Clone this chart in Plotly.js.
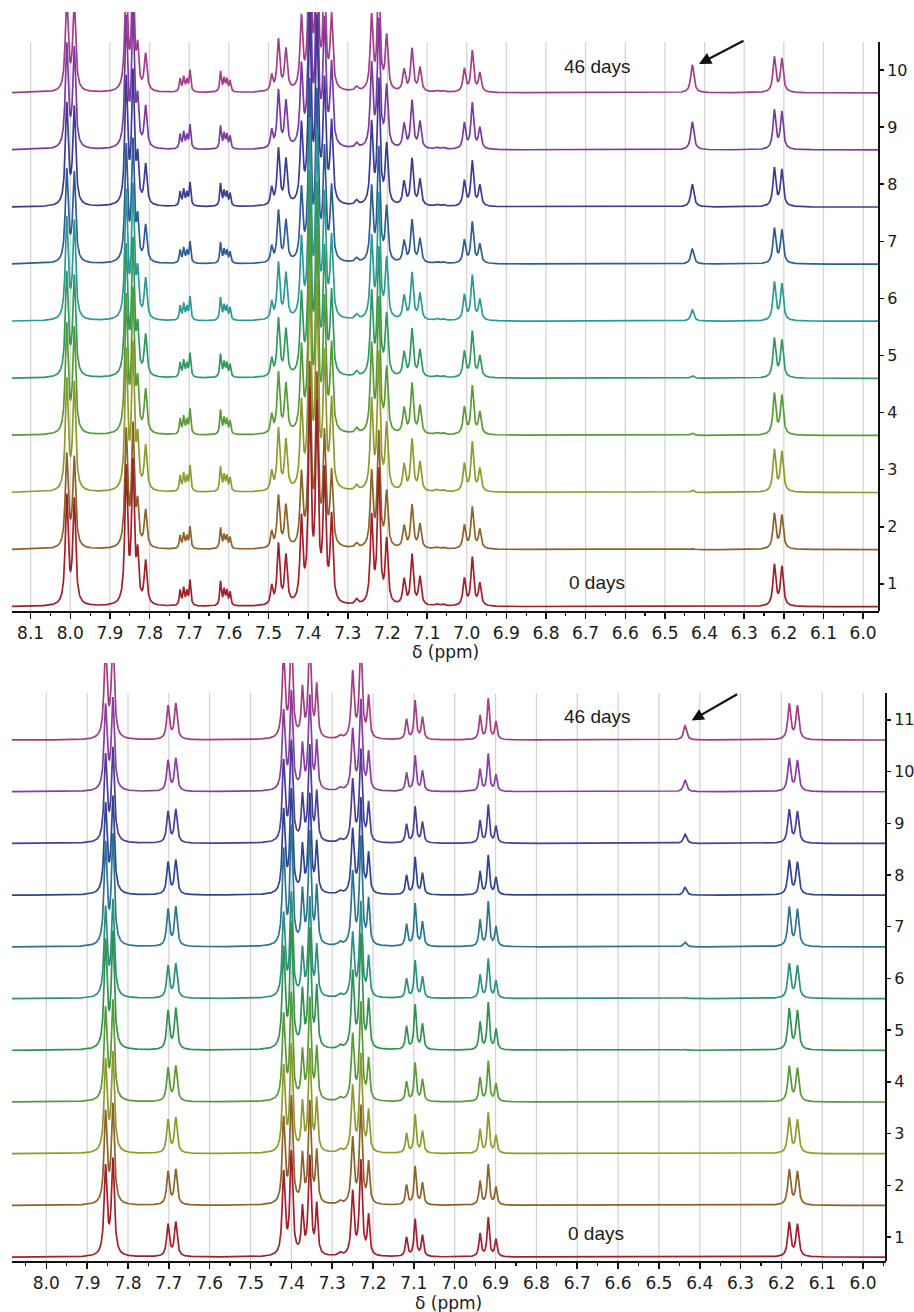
<!DOCTYPE html>
<html>
<head>
<meta charset="utf-8">
<script src="https://cdn.plot.ly/plotly-3.0.1.min.js"></script>
<style>
html,body{margin:0;padding:0;background:#ffffff;}
#chart{width:914px;height:1312px;}
</style>
</head>
<body>
<div id="chart"></div>
<script>
// ---------------- DATA: top panel (compound A) ----------------
// peak positions (ppm), intensities of spectrum 1 (a.u.), line widths (FWHM, ppm)
const topPeakPpm = [8.009, 7.990, 7.859, 7.842, 7.830, 7.810, 7.723, 7.714, 7.706, 7.698,
  7.621, 7.612, 7.605, 7.597, 7.492, 7.475, 7.456, 7.417, 7.396, 7.378, 7.359, 7.341,
  7.278, 7.240, 7.222, 7.202, 7.158, 7.138, 7.118, 7.076, 7.059, 7.006, 6.986, 6.967, 6.224, 6.205];
const topPeakIntensity = [108, 104, 134, 138, 44, 43, 15, 17, 13, 25,
  24, 15, 14, 13, 18, 60, 48, 82, 205, 190, 126, 85,
  5, 86, 132, 63, 25, 50, 28, 2, 2, 27, 48, 22, 41, 39];
const topPeakWidth = [0.0085, 0.0085, 0.008, 0.008, 0.0065, 0.008, 0.0048, 0.0048, 0.0048, 0.0048,
  0.0048, 0.0048, 0.0048, 0.0048, 0.0065, 0.008, 0.008, 0.008, 0.008, 0.008, 0.008, 0.008,
  0.009, 0.008, 0.008, 0.008, 0.008, 0.008, 0.008, 0.01, 0.01, 0.008, 0.008, 0.008, 0.0085, 0.0085];
const topTraceScale = [1.0, 0.86, 1.02, 1.0, 0.95, 0.93, 0.85, 0.93, 0.95, 0.85];
const topNewPeakPpm = 6.431;
const topNewPeakWidth = 0.0095;
const topNewPeakIntensity = [0, 0.8, 2.3, 2.3, 2.7, 11.3, 15, 22.7, 28, 28];
const topTraceLabels = [1, 2, 3, 4, 5, 6, 7, 8, 9, 10];
const topTickVals = [8.1, 8.0, 7.9, 7.8, 7.7, 7.6, 7.5, 7.4, 7.3, 7.2, 7.1, 7.0, 6.9, 6.8, 6.7, 6.6, 6.5, 6.4, 6.3, 6.2, 6.1, 6.0];
const topTickText = ['8.1', '8.0', '7.9', '7.8', '7.7', '7.6', '7.5', '7.4', '7.3', '7.2', '7.1', '7.0', '6.9', '6.8', '6.7', '6.6', '6.5', '6.4', '6.3', '6.2', '6.1', '6.0'];
const topColors = ['#a21f2a', '#8c6228', '#8f9a2c', '#579a36', '#2f9a5e', '#2a9a96', '#2c5e94', '#3a3c94', '#7b3aa2', '#a23c8c'];

// ---------------- DATA: bottom panel (compound B) ----------------
const botPeakPpm = [7.855, 7.837, 7.702, 7.683, 7.419, 7.400, 7.373, 7.355, 7.338,
  7.281, 7.250, 7.230, 7.211, 7.118, 7.097, 7.079, 6.938, 6.918, 6.899, 6.181, 6.161];
const botPeakIntensity = [88, 95, 32, 34, 82, 102, 45, 98, 49,
  3, 63, 94, 39, 19, 37, 21, 23, 39, 17, 34, 32];
const botPeakWidth = [0.0085, 0.0085, 0.008, 0.008, 0.008, 0.008, 0.0065, 0.008, 0.0065,
  0.01, 0.008, 0.008, 0.0065, 0.0065, 0.0065, 0.0065, 0.0065, 0.0065, 0.0065, 0.0085, 0.0085];
const botTraceScale = [1.0, 1.03, 1.03, 1.03, 1.2, 1.0, 1.14, 1.0, 0.97, 0.95, 1.04];
const botNewPeakPpm = 6.436;
const botNewPeakWidth = 0.009;
const botNewPeakIntensity = [0, 0, 0, 0, 0.8, 1.0, 4.7, 7.7, 9.3, 11.7, 14.3];
const botTraceLabels = [1, 2, 3, 4, 5, 6, 7, 8, 9, 10, 11];
const botTickVals = [8.0, 7.9, 7.8, 7.7, 7.6, 7.5, 7.4, 7.3, 7.2, 7.1, 7.0, 6.9, 6.8, 6.7, 6.6, 6.5, 6.4, 6.3, 6.2, 6.1, 6.0];
const botTickText = ['8.0', '7.9', '7.8', '7.7', '7.6', '7.5', '7.4', '7.3', '7.2', '7.1', '7.0', '6.9', '6.8', '6.7', '6.6', '6.5', '6.4', '6.3', '6.2', '6.1', '6.0'];
const botColors = ['#a21f2a', '#8c6228', '#8f9a2c', '#579a36', '#2f9250', '#2a9080', '#2a7494', '#2e4492', '#4a3c98', '#8a3ca4', '#a43c84'];

// ---------------- display settings ----------------
const topRangeX = [8.147, 5.960], botRangeX = [8.084, 5.944];
const topRangeY = [0.525, 11.016], botRangeY = [0.536, 12.10];
const topGridTop = 10.49, botGridTop = 11.52;
const topBaseOffset = 0.40, botBaseOffset = 0.39;     // baseline below tick value
const topIntensityPerUnit = 57.1, botIntensityPerUnit = 51.7;
const step = 0.0006;

function buildGrid(range, peaks, extra) {
  const xs = [];
  for (let v = range[0]; v >= range[1]; v -= step) xs.push(v);
  peaks.forEach(p => xs.push(p));
  xs.push(extra);
  xs.sort((a, b) => b - a);
  return xs;
}

function spectrum(xs, ppm, inten, width, scale, nPpm, nInt, nW) {
  return xs.map(x => {
    let s = 0;
    for (let i = 0; i < ppm.length; i++) {
      const d = 2 * (x - ppm[i]) / width[i];
      s += scale * inten[i] / (1 + d * d);
    }
    const dn = 2 * (x - nPpm) / nW;
    s += nInt / (1 + dn * dn);
    return s;
  });
}

const traces = [];
function addPanel(xa, ya, range, ppm, inten, width, scales, nPpm, nW, nInts, labels, colors, baseOff, perUnit) {
  const xs = buildGrid(range, ppm, nPpm);
  for (let k = labels.length - 1; k >= 0; k--) {
    const sp = spectrum(xs, ppm, inten, width, scales[k], nPpm, nInts[k], nW);
    const base = labels[k] - baseOff;
    traces.push({
      type: 'scatter', mode: 'lines', x: xs, y: sp.map(v => base + v / perUnit),
      xaxis: xa, yaxis: ya, line: {color: colors[k], width: 1.7}, hoverinfo: 'skip'
    });
  }
}
addPanel('x', 'y', topRangeX, topPeakPpm, topPeakIntensity, topPeakWidth, topTraceScale,
  topNewPeakPpm, topNewPeakWidth, topNewPeakIntensity, topTraceLabels, topColors, topBaseOffset, topIntensityPerUnit);
addPanel('x2', 'y2', botRangeX, botPeakPpm, botPeakIntensity, botPeakWidth, botTraceScale,
  botNewPeakPpm, botNewPeakWidth, botNewPeakIntensity, botTraceLabels, botColors, botBaseOffset, botIntensityPerUnit);

function mids(vals, range) {
  const m = [];
  for (let i = 0; i < vals.length - 1; i++) m.push((vals[i] + vals[i + 1]) / 2);
  const first = vals[0] + 0.05, last = vals[vals.length - 1] - 0.05;
  if (first <= range[0]) m.push(first);
  if (last >= range[1]) m.push(last);
  return m;
}

const shapes = [];
function gridShapes(xref, yref, vals, y0, y1) {
  vals.forEach(v => shapes.push({type: 'line', xref: xref, yref: yref, x0: v, x1: v, y0: y0, y1: y1,
    layer: 'below', line: {color: '#d2d2d2', width: 1.2}}));
  shapes.push({type: 'line', xref: xref + ' domain', yref: yref, x0: 1, x1: 1, y0: y0, y1: y1,
    line: {color: '#111111', width: 2}});
}
gridShapes('x', 'y', topTickVals, topRangeY[0], topGridTop);
gridShapes('x2', 'y2', botTickVals, botRangeY[0], botGridTop);

const tickFont = {family: 'DejaVu Sans, Verdana, sans-serif', size: 17, color: '#1a1a1a'};
const yTickFont = {family: 'DejaVu Sans, Verdana, sans-serif', size: 16, color: '#1a1a1a'};
function xAxis(domain, range, vals, text, anchor) {
  return {
    domain: domain, range: range, anchor: anchor, tickmode: 'array', tickvals: vals, ticktext: text,
    ticks: 'outside', ticklen: 6, tickwidth: 1.5, tickcolor: '#111',
    minor: {tickmode: 'array', tickvals: mids(vals, range), ticks: 'outside', ticklen: 3, tickwidth: 1.2, tickcolor: '#111', showgrid: false},
    showline: true, linewidth: 2, linecolor: '#111', showgrid: false, zeroline: false,
    tickfont: tickFont, fixedrange: true
  };
}
function yAxis(domain, range, labels, anchor) {
  return {
    domain: domain, range: range, anchor: anchor, side: 'right', tickmode: 'array',
    tickvals: labels, ticktext: labels.map(String), ticks: 'outside', ticklen: 4, tickwidth: 1.5,
    tickcolor: '#111', showline: false, showgrid: false, zeroline: false, tickfont: yTickFont,
    ticklabelstandoff: 0, fixedrange: true
  };
}

const annFont = {family: 'Liberation Sans, Arial, sans-serif', size: 19, color: '#1a1a1a'};
const annotations = [
  {xref: 'x', yref: 'y', x: 6.669, y: 10.07, text: '46 days', showarrow: false, font: annFont},
  {xref: 'x', yref: 'y', x: 6.671, y: 1.02, text: '0 days', showarrow: false, font: annFont},
  {xref: 'x', yref: 'y', x: 6.414, y: 10.105, text: '', showarrow: true, ax: 46, ay: -24,
    arrowhead: 2, arrowsize: 1.1, arrowwidth: 2.2, arrowcolor: '#111'},
  {xref: 'x2', yref: 'y2', x: 6.651, y: 11.06, text: '46 days', showarrow: false, font: annFont},
  {xref: 'x2', yref: 'y2', x: 6.654, y: 1.07, text: '0 days', showarrow: false, font: annFont},
  {xref: 'x2', yref: 'y2', x: 6.420, y: 10.99, text: '', showarrow: true, ax: 47, ay: -27,
    arrowhead: 2, arrowsize: 1.1, arrowwidth: 2.2, arrowcolor: '#111'},
  {xref: 'paper', yref: 'paper', x: 445 / 914, y: 1 - 652 / 1312, text: 'δ (ppm)', showarrow: false,
    xanchor: 'center', yanchor: 'middle', font: tickFont},
  {xref: 'paper', yref: 'paper', x: 448 / 914, y: 1 - 1303 / 1312, text: 'δ (ppm)', showarrow: false,
    xanchor: 'center', yanchor: 'middle', font: tickFont}
];

const layout = {
  width: 914, height: 1312, margin: {l: 0, r: 0, t: 0, b: 0},
  paper_bgcolor: '#ffffff', plot_bgcolor: '#ffffff', showlegend: false,
  xaxis: xAxis([12 / 914, 879 / 914], topRangeX, topTickVals, topTickText, 'y'),
  yaxis: yAxis([1 - 611 / 1312, 1 - 12 / 1312], topRangeY, topTraceLabels, 'x'),
  xaxis2: xAxis([12 / 914, 886 / 914], botRangeX, botTickVals, botTickText, 'y2'),
  yaxis2: yAxis([1 - 1261 / 1312, 1 - 663 / 1312], botRangeY, botTraceLabels, 'x2'),
  shapes: shapes, annotations: annotations
};

Plotly.newPlot('chart', traces, layout, {displayModeBar: false, staticPlot: true});
</script>
</body>
</html>
